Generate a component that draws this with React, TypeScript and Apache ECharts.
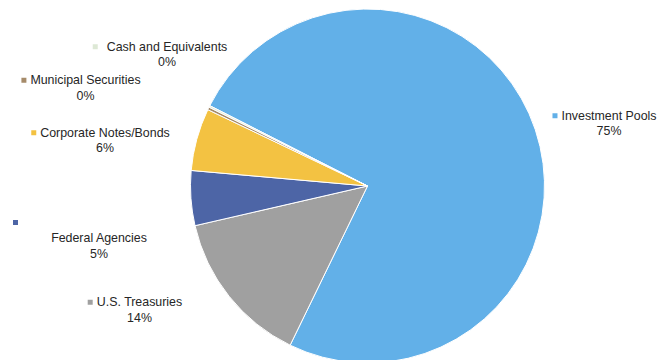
import React, { useEffect, useRef } from "react";
import * as echarts from "echarts";

const categories = [
  "Investment Pools",
  "U.S. Treasuries",
  "Federal Agencies",
  "Corporate Notes/Bonds",
  "Municipal Securities",
  "Cash and Equivalents",
];
const values = [74.7, 14.2, 5.0, 5.7, 0.25, 0.15];
const colors = ["#62B0E8", "#A0A0A0", "#4D65A6", "#F3C242", "#A68B6A", "#DDE8D5"];
// label block centres (layout only)
const labelPos: [number, number][] = [
  [604.5, 123.5],
  [135, 310],
  [99, 238],
  [100.5, 140.5],
  [81, 88],
  [160, 54.5],
];

export default function App() {
  const ref = useRef<HTMLDivElement>(null);
  useEffect(() => {
    document.body.style.margin = "0";
    const chart = echarts.init(ref.current!, undefined, { renderer: "svg" });
    const font = "Liberation Sans, Arial, sans-serif";
    const base = { fontSize: 12.4, color: "#262626", lineHeight: 15.5, fontFamily: font };
    const rich: any = {
      n: { ...base, padding: [0, 0, 0, 4] },
      nw: { ...base, padding: [0, 0, 0, 9] },
      p: { ...base, padding: [0, 0, 0, 9] },
      pw: { ...base, padding: [0, 0, 0, 14] },
      n0: { ...base },
      p0: { ...base },
      gap: { width: 167, height: 5, lineHeight: 15.5 },
    };
    colors.forEach((c, i) => {
      rich["sq" + i] = { width: 5, height: 5, backgroundColor: c, lineHeight: 15.5 };
    });
    chart.setOption({
      animation: false,
      series: [
        {
          type: "pie",
          center: [367.5, 186],
          radius: 177,
          startAngle: 153,
          clockwise: true,
          avoidLabelOverlap: false,
          itemStyle: { borderColor: "#fff", borderWidth: 1 },
          labelLine: { show: false },
          label: {
            show: true,
            position: "inside",
            overflow: "none",
            align: "center",
            color: "#262626",
            rich,
            formatter: (p: any) => {
              const pct = Math.round(p.percent) + "%";
              if (p.dataIndex === 2) {
                return `{sq2|}{gap|}\n{n0|${p.name}}\n{p0|${pct}}`;
              }
              if (p.dataIndex === 5) {
                return `{sq5|}{nw|${p.name}}\n{pw|${pct}}`;
              }
              return `{sq${p.dataIndex}|}{n|${p.name}}\n{p|${pct}}`;
            },
          },
          labelLayout: (params: any) => {
            const [x, y] = labelPos[params.dataIndex];
            return { x, y, align: "center", verticalAlign: "middle" };
          },
          emphasis: { disabled: true },
          data: categories.map((name, i) => ({
            name,
            value: values[i],
            itemStyle: { color: colors[i] },
          })),
        },
      ],
    });
    return () => chart.dispose();
  }, []);
  return <div ref={ref} style={{ width: 659, height: 360 }} />;
}
